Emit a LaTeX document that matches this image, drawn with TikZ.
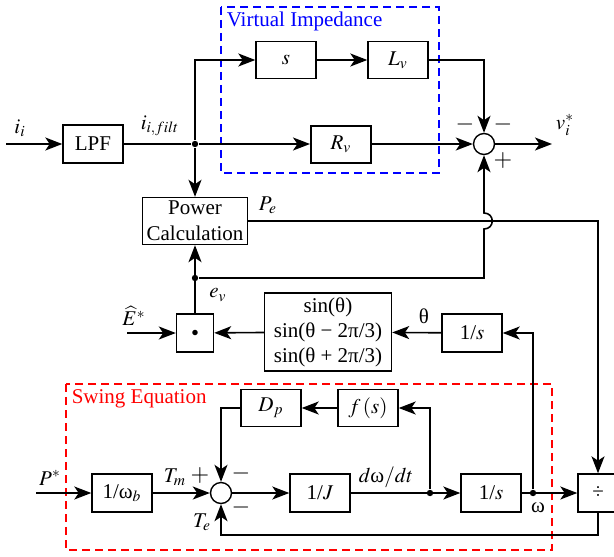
\documentclass[tikz,border=0pt]{standalone}
\usepackage{mathptmx}
\usepackage{fontspec}
\setmainfont{Liberation Serif}
\usepackage{tikz}
\usetikzlibrary{positioning, shapes, arrows.meta}

\begin{document}
\begin{tikzpicture}[x=0.5pt, y=-0.5pt, line width=0.8pt,
    font=\fontsize{10.5}{13}\selectfont,
    blk/.style={rectangle, draw, line width=0.7pt, minimum width=30pt, minimum height=19pt, inner sep=1pt},
    sumc/.style={circle, draw, line width=0.7pt, minimum size=10.5pt, inner sep=0pt},
    jdot/.style={circle, fill, minimum size=3.2pt, inner sep=0pt},
    sig/.style={font=\fontsize{12}{12}\selectfont, inner sep=0pt},
    frame/.style={dash pattern=on 4pt off 2.5pt, line width=0.6pt},
    >={Stealth[length=8.5pt, width=6.5pt, inset=2.2pt]}]
    \useasboundingbox (0,0) rectangle (614,556);

    % Virtual impedance
    \draw[frame, blue] (221,7) rectangle (439,173);
    \node[blue, anchor=west, inner sep=0pt] (vilab) at (226,21) {Virtual Impedance};
    \node[blk] (lpf) at (93,144) {LPF};
    \node[blk, minimum height=18.5pt] (s) at (286,60) {$s$};
    \node[blk, minimum height=18.5pt] (lv) at (398,60) {$L_v$};
    \node[blk, minimum height=18.5pt, line width=1pt] (rv) at (341,144) {$R_v$};
    \node[sumc] (sum1) at (484,144) {};
    \node[jdot] (j1) at (195,144) {};
    \coordinate (iin) at (6,144);
    \coordinate (vout) at (552,144);

    \draw[->] (iin) -- (lpf);
    \draw (lpf) -- (j1);
    \draw[->] (j1) -- (rv);
    \draw[->] (j1) |- (s);
    \draw[->] (s) -- (lv);
    \draw[->] (lv.east) -| (sum1.north);
    \draw[->] (rv) -- (sum1);
    \draw[->] (sum1) -- (vout);

    \node (lii) at (20,128) {$i_i$};
    \node (lfilt) at (160,126) {$i_{i,filt}$};
    \node (lvout) at (565,125) {$v_i^*$};
    \node[sig] (m1) at (465,124) {$-$};
    \node[sig] (m2) at (503,124) {$-$};
    \node[sig] (p1) at (503,161) {$+$};

    % Power calculation
    \node[blk, minimum width=52.5pt, minimum height=23.5pt, align=center, inner sep=0pt] (pc) at (195,221) {Power\\Calculation};
    \node[jdot] (j2) at (195,278) {};
    \node[blk, minimum width=18.5pt] (dotb) at (195,333) {\fontsize{7}{7}\selectfont$\bullet$};
    \node[blk, minimum width=63.5pt, minimum height=39pt, align=center, inner sep=0pt, font=\fontsize{10.5}{12.5}\selectfont] (sinb) at (328,332) {sin(θ)\\sin(θ − 2π/3)\\sin(θ + 2π/3)};
    \node[blk] (invs1) at (472,333) {1/$s$};
    \coordinate (ein) at (127,333);
    \coordinate (hopl) at (484,229);
    \coordinate (hoph) at (484,213);

    \draw[->] (j1) -- (pc);
    \draw[->] (dotb) -- (pc);
    \draw[->] (j2) -| (hopl) .. controls (495,229) and (495,213) .. (hoph) -- (sum1.south);
    \draw[->] (ein) -- (dotb);
    \draw[->] (sinb) -- (dotb);
    \draw[->] (invs1) -- (sinb);

    \node (lpe) at (268,205) {$P_e$};
    \node (lev) at (218,295) {$e_v$};
    \node[inner sep=0pt] (lein) at (134,316) {$\widehat{E}^*$};
    \node (lth) at (424,316) {θ};

    % Swing equation
    \draw[frame, red] (66,384) rectangle (552,550);
    \node[red, anchor=west, inner sep=0pt] (swlab) at (71,399) {Swing Equation};
    \node[blk, minimum height=18.5pt] (dp) at (271,408) {$D_p$};
    \node[blk, minimum height=18.5pt] (fs) at (368,408) {$f\,(s)$};
    \node[blk] (winv) at (122,493) {1/ω$_b$};
    \node[sumc] (sum2) at (221,493) {};
    \node[blk] (invj) at (320,493) {1/$J$};
    \node[blk] (invs2) at (491,493) {1/$s$};
    \node[blk, minimum width=20pt] (div) at (598,493) {÷};
    \node[jdot] (j3) at (430,493) {};
    \node[jdot] (j4) at (533,493) {};
    \coordinate (pin) at (36,493);
    \coordinate (fbk) at (598,535);

    \draw[->] (pin) -- (winv);
    \draw[->] (winv) -- (sum2);
    \draw[->] (sum2) -- (invj);
    \draw[->] (invj) -- (invs2);
    \draw[->] (j3) |- (fs.east);
    \draw[->] (fs) -- (dp);
    \draw[->] (dp.west) -| (sum2.north);
    \draw[->] (invs2) -- (div);
    \draw[->] (j4) |- (invs1.east);
    \draw[->] (pc.east) -| (div.north);
    \draw[->] (div.south) -- (fbk) -| (sum2.south);

    \node (lpin) at (50,478) {$P^*$};
    \node (ltm) at (175,477) {$T_m$};
    \node (lte) at (202,522) {$T_e$};
    \node (ldw) at (386,477) {$d$ω$/dt$};
    \node (lw) at (538,508) {ω};
    \node[sig] (p2) at (200,475) {$+$};
    \node[sig] (m3) at (241,473) {$-$};
    \node[sig] (m4) at (241,507) {$-$};
\end{tikzpicture}
\end{document}
